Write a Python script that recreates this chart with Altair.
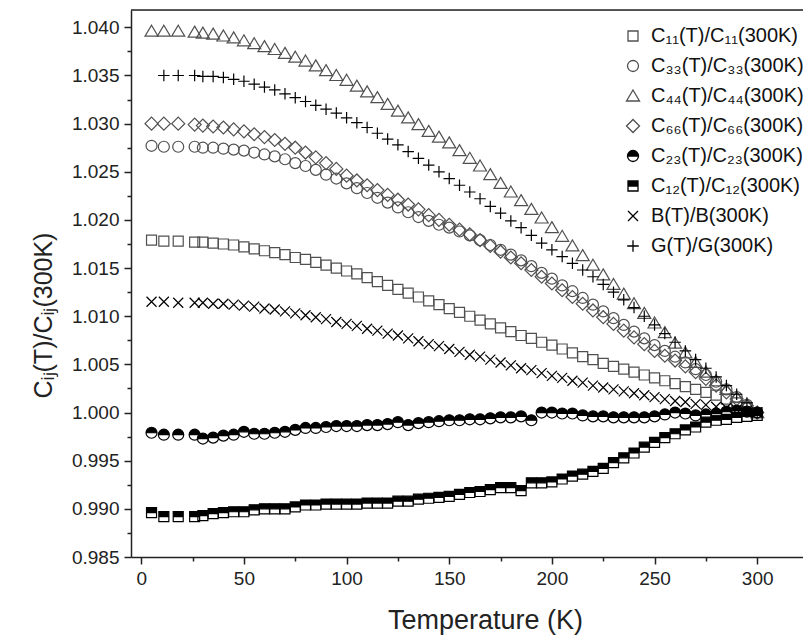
import altair as alt
import pandas as pd

# Temperatures (K)
temps = [5, 11, 18, 26, 30, 35, 40, 45, 50, 55, 60, 65, 70, 75, 80, 85, 90, 95, 100,
         105, 110, 115, 120, 125, 130, 135, 140, 145, 150, 155, 160, 165, 170, 175, 180,
         185, 190, 195, 200, 205, 210, 215, 220, 225, 230, 235, 240, 245, 250, 255, 260,
         265, 270, 275, 280, 285, 290, 295, 300]
temps_g = temps[1:]

c11 = [1.0179, 1.0178, 1.0178, 1.0177, 1.0177, 1.0176, 1.0175, 1.0174, 1.0172, 1.0170,
       1.0168, 1.0166, 1.0164, 1.0161, 1.0159, 1.0156, 1.0153, 1.0150, 1.0147,
       1.0144, 1.0140, 1.0136, 1.0132, 1.0128, 1.0124, 1.0120, 1.0116, 1.0112, 1.0108,
       1.0104, 1.0100, 1.0096, 1.0092, 1.0088, 1.0084, 1.0080, 1.0077, 1.0073, 1.0070,
       1.0066, 1.0062, 1.0058, 1.0055, 1.0051, 1.0048, 1.0045, 1.0042, 1.0039, 1.0036,
       1.0033, 1.0030, 1.0027, 1.0024, 1.0021, 1.0018, 1.0014, 1.0010, 1.0005, 1.0000]
c33 = [1.0277, 1.0276, 1.0276, 1.0276, 1.0275, 1.0275, 1.0274, 1.0273, 1.0272, 1.0270,
       1.0268, 1.0266, 1.0263, 1.0259, 1.0256, 1.0252, 1.0247, 1.0243, 1.0238,
       1.0233, 1.0228, 1.0223, 1.0218, 1.0213, 1.0208, 1.0203, 1.0199, 1.0195, 1.0192,
       1.0188, 1.0184, 1.0179, 1.0174, 1.0169, 1.0164, 1.0158, 1.0152, 1.0145, 1.0139,
       1.0132, 1.0126, 1.0119, 1.0112, 1.0105, 1.0098, 1.0091, 1.0084, 1.0077, 1.0070,
       1.0064, 1.0058, 1.0052, 1.0045, 1.0039, 1.0032, 1.0024, 1.0016, 1.0008, 1.0000]
c44 = [1.0396, 1.0396, 1.0396, 1.0395, 1.0394, 1.0393, 1.0391, 1.0389, 1.0386, 1.0383,
       1.0380, 1.0377, 1.0373, 1.0369, 1.0365, 1.0360, 1.0355, 1.0350, 1.0345,
       1.0339, 1.0333, 1.0327, 1.0320, 1.0313, 1.0306, 1.0299, 1.0292, 1.0286, 1.0280,
       1.0272, 1.0264, 1.0256, 1.0247, 1.0238, 1.0229, 1.0220, 1.0211, 1.0202, 1.0192,
       1.0183, 1.0173, 1.0163, 1.0153, 1.0143, 1.0133, 1.0123, 1.0113, 1.0103, 1.0093,
       1.0083, 1.0072, 1.0062, 1.0052, 1.0042, 1.0033, 1.0024, 1.0016, 1.0008, 1.0000]
c66 = [1.0300, 1.0300, 1.0300, 1.0299, 1.0298, 1.0297, 1.0296, 1.0294, 1.0292, 1.0289,
       1.0286, 1.0283, 1.0279, 1.0275, 1.0270, 1.0265, 1.0259, 1.0253, 1.0246,
       1.0241, 1.0236, 1.0231, 1.0226, 1.0221, 1.0216, 1.0211, 1.0205, 1.0200, 1.0195,
       1.0190, 1.0185, 1.0179, 1.0173, 1.0167, 1.0161, 1.0155, 1.0148, 1.0141, 1.0134,
       1.0127, 1.0120, 1.0113, 1.0106, 1.0099, 1.0092, 1.0085, 1.0078, 1.0071, 1.0064,
       1.0059, 1.0054, 1.0048, 1.0042, 1.0035, 1.0028, 1.0021, 1.0014, 1.0007, 1.0000]
c23 = [0.9979, 0.9977, 0.9977, 0.9977, 0.9973, 0.9974, 0.9976, 0.9977, 0.9980, 0.9978,
       0.9978, 0.9979, 0.9980, 0.9982, 0.9984, 0.9984, 0.9985, 0.9986, 0.9986,
       0.9986, 0.9987, 0.9987, 0.9988, 0.9990, 0.9987, 0.9989, 0.9990, 0.9991, 0.9992,
       0.9992, 0.9993, 0.9993, 0.9994, 0.9995, 0.9995, 0.9996, 0.9992, 1.0000, 1.0000,
       0.9999, 0.9999, 0.9997, 0.9996, 0.9996, 0.9995, 0.9995, 0.9995, 0.9995, 0.9996,
       0.9998, 1.0000, 0.9999, 0.9997, 0.9998, 0.9999, 1.0001, 1.0002, 1.0001, 1.0000]
c12 = [0.9896, 0.9892, 0.9892, 0.9892, 0.9893, 0.9895, 0.9896, 0.9897, 0.9897, 0.9899,
       0.9900, 0.9900, 0.9900, 0.9902, 0.9904, 0.9904, 0.9905, 0.9905, 0.9905,
       0.9905, 0.9906, 0.9906, 0.9906, 0.9908, 0.9908, 0.9910, 0.9911, 0.9912, 0.9913,
       0.9915, 0.9917, 0.9918, 0.9920, 0.9922, 0.9922, 0.9919, 0.9927, 0.9927, 0.9928,
       0.9931, 0.9934, 0.9936, 0.9939, 0.9942, 0.9948, 0.9953, 0.9958, 0.9964, 0.9969,
       0.9974, 0.9978, 0.9982, 0.9985, 0.9990, 0.9992, 0.9993, 0.9995, 0.9996, 0.9997]
bulk = [1.0115, 1.0115, 1.0114, 1.0114, 1.0114, 1.0113, 1.0113, 1.0112, 1.0111, 1.0110,
        1.0108, 1.0107, 1.0105, 1.0103, 1.0101, 1.0099, 1.0097, 1.0094, 1.0092,
        1.0090, 1.0087, 1.0085, 1.0082, 1.0080, 1.0077, 1.0074, 1.0071, 1.0069, 1.0066,
        1.0063, 1.0060, 1.0058, 1.0055, 1.0052, 1.0049, 1.0046, 1.0044, 1.0041, 1.0038,
        1.0036, 1.0033, 1.0031, 1.0028, 1.0026, 1.0024, 1.0022, 1.0020, 1.0018, 1.0016,
        1.0014, 1.0012, 1.0011, 1.0009, 1.0008, 1.0006, 1.0005, 1.0003, 1.0002, 1.0000]
shear = [1.0350, 1.0350, 1.0350, 1.0349, 1.0349, 1.0348, 1.0346, 1.0344, 1.0341,
         1.0338, 1.0335, 1.0331, 1.0327, 1.0323, 1.0319, 1.0315, 1.0311, 1.0306,
         1.0301, 1.0296, 1.0290, 1.0284, 1.0278, 1.0271, 1.0264, 1.0257, 1.0250, 1.0243,
         1.0236, 1.0229, 1.0222, 1.0214, 1.0207, 1.0199, 1.0192, 1.0184, 1.0176, 1.0169,
         1.0162, 1.0155, 1.0148, 1.0141, 1.0133, 1.0125, 1.0117, 1.0109, 1.0100, 1.0091,
         1.0082, 1.0073, 1.0064, 1.0055, 1.0046, 1.0037, 1.0028, 1.0019, 1.0010, 1.0000]

names = ["C₁₁(T)/C₁₁(300K)", "C₃₃(T)/C₃₃(300K)", "C₄₄(T)/C₄₄(300K)",
         "C₆₆(T)/C₆₆(300K)", "C₂₃(T)/C₂₃(300K)", "C₁₂(T)/C₁₂(300K)",
         "B(T)/B(300K)", "G(T)/G(300K)"]
series = [(temps, c11), (temps, c33), (temps, c44), (temps, c66),
          (temps, c23), (temps, c12), (temps, bulk), (temps_g, shear)]

rows = []
for order, (name, (ts, vals)) in enumerate(zip(names, series)):
    for t, v in zip(ts, vals):
        rows.append({"T": t, "ratio": v, "series": name, "order": order})
df = pd.DataFrame(rows)

shape_paths = [
    "M-1,-1L1,-1L1,1L-1,1Z",
    "M-1.1,0A1.1,1.1,0,1,1,1.1,0A1.1,1.1,0,1,1,-1.1,0Z",
    "M0,-1.2L1.3,1.0L-1.3,1.0Z",
    "M-1.3,0L0,-1.3L1.3,0L0,1.3Z",
    "M-1.1,0A1.1,1.1,0,0,1,1.1,0Z M-1.1,0A1.1,1.1,0,0,0,1.1,0A1.1,1.1,0,0,1,-1.1,0",
    "M-1,-1L1,-1L1,0L-1,0Z M-1,0L-1,1L1,1L1,0L1,1L-1,1L-1,0",
    "M-1,-1L1,1M-1,1L1,-1",
    "M-1.15,0L1.15,0M0,-1.15L0,1.15",
]
fills = ["transparent"] * 4 + ["#000000", "#000000"] + ["transparent"] * 2
strokes = ["#505050"] * 4 + ["#000000", "#000000", "#000000", "#000000"]

W, H = 672, 547
xdom = [-5, 322.3]
ydom = [0.985, 1.0418]

leg = alt.Legend(title=None, orient="none", legendX=492, legendY=16,
                 labelFontSize=20, labelLimit=400, symbolSize=100,
                 symbolStrokeWidth=1.3, rowPadding=10, labelOffset=8,
                 padding=0, labelColor="#111111")

xscale = alt.Scale(domain=xdom, nice=False, zero=False)
yscale = alt.Scale(domain=ydom, nice=False, zero=False)

points = alt.Chart(df).mark_point(size=100, strokeWidth=1.2, opacity=1).encode(
    x=alt.X("T:Q", scale=xscale,
            axis=alt.Axis(orient="bottom", values=[0, 50, 100, 150, 200, 250, 300],
                          title="Temperature (K)", titleFontSize=27,
                          titleFontWeight="normal", titleX=354, titleY=63,
                          titleBaseline="middle", titleColor="#222222",
                          labelFontSize=19, labelColor="#222222", labelPadding=5,
                          tickSize=7, tickWidth=1.5, tickColor="#222222",
                          domainWidth=1.5, domainColor="#222222", grid=False)),
    y=alt.Y("ratio:Q", scale=yscale,
            axis=alt.Axis(orient="left",
                          values=[0.985, 0.99, 0.995, 1.0, 1.005, 1.01, 1.015, 1.02,
                                  1.025, 1.03, 1.035, 1.04],
                          format=".3f", title="Cᵢⱼ(T)/Cᵢⱼ(300K)", titleFontSize=25,
                          titleFontWeight="normal", titleX=-88, titleY=305,
                          titleAngle=-90, titleBaseline="middle", titleAlign="center",
                          titleColor="#222222",
                          labelFontSize=19, labelColor="#222222", labelPadding=5,
                          tickSize=7, tickWidth=1.5, tickColor="#222222",
                          domainWidth=1.5, domainColor="#222222", grid=False)),
    shape=alt.Shape("series:N", scale=alt.Scale(domain=names, range=shape_paths),
                    legend=leg),
    fill=alt.Fill("series:N", scale=alt.Scale(domain=names, range=fills), legend=leg),
    stroke=alt.Stroke("series:N", scale=alt.Scale(domain=names, range=strokes),
                      legend=leg),
    order=alt.Order("order:Q"),
)

minor = alt.Chart(df).mark_point(opacity=0, size=1).encode(
    x=alt.X("T:Q", scale=xscale,
            axis=alt.Axis(orient="bottom", values=[25, 75, 125, 175, 225, 275],
                          labels=False, title="", tickSize=4, tickWidth=1.5,
                          tickColor="#222222", domain=False, grid=False)),
    y=alt.Y("ratio:Q", scale=yscale,
            axis=alt.Axis(orient="left",
                          values=[0.9875, 0.9925, 0.9975, 1.0025, 1.0075, 1.0125,
                                  1.0175, 1.0225, 1.0275, 1.0325, 1.0375],
                          labels=False, title="", tickSize=4, tickWidth=1.5,
                          tickColor="#222222", domain=False, grid=False)),
)

top_line = alt.Chart(pd.DataFrame({"a": [0]})).mark_rule(
    color="#222222", strokeWidth=1.5).encode(
    y=alt.value(0), x=alt.value(0), x2=alt.value(W))

chart = alt.layer(minor, points, top_line).resolve_axis(
    x="independent", y="independent").properties(
    width=W, height=H,
    autosize=alt.AutoSizeParams(type="none"),
    padding={"left": 131, "top": 10, "right": 0, "bottom": 81},
).configure_view(stroke=None).configure(font="Liberation Sans", background="white")

chart.save("out.html", embed_options={"renderer": "svg", "actions": False})
